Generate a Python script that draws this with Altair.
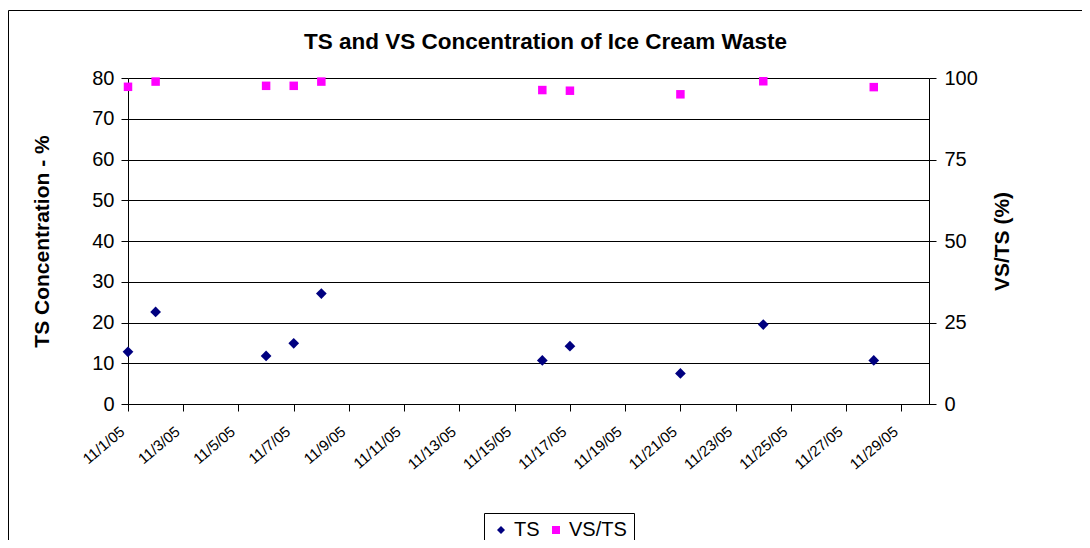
import altair as alt
import pandas as pd

# ---- data ----
dates = ["2005-11-01", "2005-11-02", "2005-11-06", "2005-11-07", "2005-11-08",
         "2005-11-16", "2005-11-17", "2005-11-21", "2005-11-24", "2005-11-28"]
ts_values = [12.8, 22.6, 11.8, 14.9, 27.1, 10.7, 14.2, 7.5, 19.5, 10.7]
vs_ts_values = [97.3, 98.9, 97.6, 97.6, 98.9, 96.3, 96.1, 95.0, 99.0, 97.2]
series_names = ["TS", "VS/TS"]
series_colors = ["#000080", "#FF00FF"]
series_shapes = ["diamond", "square"]
x_tick_days = list(range(1, 30, 2))
left_ticks = list(range(0, 81, 10))
right_ticks = [0, 25, 50, 75, 100]

df = pd.DataFrame({
    "date": dates + dates,
    "series": [series_names[0]] * len(dates) + [series_names[1]] * len(dates),
    "value": ts_values + vs_ts_values,
})

FONT = "Liberation Sans"
W, H = 801, 326

x_enc = alt.X(
    "date:T",
    scale=alt.Scale(type="utc",
                    domain=[alt.DateTime(year=2005, month=11, date=1, utc=True),
                            alt.DateTime(year=2005, month=11, date=30, utc=True)]),
    axis=alt.Axis(
        values=[alt.DateTime(year=2005, month=11, date=d, utc=True) for d in x_tick_days],
        labelExpr="utcFormat(datum.value, '%-m/%-d/%y')",
        labelAngle=320, labelAlign="right", labelBaseline="middle",
        labelFontSize=15, labelPadding=18, labelOffset=-6,
        tickSize=7, grid=False, title=None,
    ),
)

color_scale = alt.Scale(domain=series_names, range=series_colors)
shape_scale = alt.Scale(domain=series_names, range=series_shapes)
legend = alt.Legend(
    title=None, orient="none", direction="horizontal",
    legendX=356, legendY=435,
    strokeColor="#000000", fillColor="#ffffff", padding=7,
    labelFont=FONT, labelFontSize=20, labelColor="#000000",
    symbolSize=64, symbolStrokeWidth=0, labelOffset=3, columnPadding=6,
)

base = alt.Chart(df)

ts_layer = base.transform_filter(alt.datum.series == "TS").mark_point(
    filled=True, size=115, opacity=1
).encode(
    x=x_enc,
    y=alt.Y("value:Q",
            scale=alt.Scale(domain=[0, 80], nice=False, zero=True),
            axis=alt.Axis(values=left_ticks, grid=True, gridColor="#000000",
                          gridWidth=1, tickSize=7, labelPadding=7,
                          title="TS Concentration - %", titleAngle=270,
                          titleX=-86, titleY=163, titleAlign="center",
                          titleBaseline="middle")),
    color=alt.Color("series:N", scale=color_scale, legend=legend),
    shape=alt.Shape("series:N", scale=shape_scale, legend=legend),
)

vs_layer = base.transform_filter(alt.datum.series == "VS/TS").mark_point(
    filled=True, size=72, opacity=1
).encode(
    x=x_enc,
    y=alt.Y("value:Q",
            scale=alt.Scale(domain=[0, 100], nice=False, zero=True),
            axis=alt.Axis(orient="right", values=right_ticks, grid=False,
                          tickSize=7, labelPadding=8,
                          title="VS/TS (%)", titleAngle=270,
                          titleX=73, titleY=163, titleAlign="center",
                          titleBaseline="middle")),
    color=alt.Color("series:N", scale=color_scale, legend=legend),
    shape=alt.Shape("series:N", scale=shape_scale, legend=legend),
)

frame = alt.Chart(pd.DataFrame({"k": [0]})).mark_rect(
    fill=None, stroke="#000000", strokeWidth=1
).encode(
    x=alt.value(-119.5), x2=alt.value(954.5),
    y=alt.value(-67.5), y2=alt.value(600),
)

chart = alt.layer(frame, ts_layer, vs_layer).resolve_scale(
    y="independent"
).properties(
    width=W, height=H,
    title=alt.TitleParams("TS and VS Concentration of Ice Cream Waste",
                          font=FONT, fontSize=22.5, fontWeight="bold",
                          color="#000000", anchor="middle", frame="group",
                          baseline="alphabetic", offset=0, dx=17, dy=61),
    autosize=alt.AutoSizeParams(type="none"),
    padding={"left": 120, "top": 70, "right": 153, "bottom": 136},
).configure_view(
    stroke=None
).configure_axis(
    labelFont=FONT, labelFontSize=20, labelColor="#000000",
    titleFont=FONT, titleFontSize=21, titleFontWeight="bold", titleColor="#000000",
    domainColor="#000000", tickColor="#000000", domainWidth=1, tickWidth=1,
)

chart.save("out.html", embed_options={"renderer": "svg", "actions": False})
